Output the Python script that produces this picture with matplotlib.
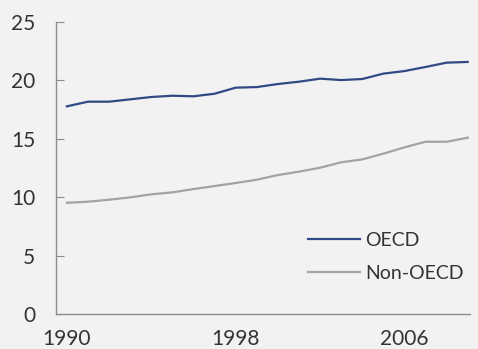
import matplotlib.pyplot as plt

years = list(range(1990, 2010))

oecd = [17.78, 18.18, 18.18, 18.38, 18.58, 18.69, 18.64, 18.86, 19.38, 19.43,
        19.69, 19.89, 20.15, 20.03, 20.12, 20.58, 20.80, 21.15, 21.52, 21.58]
non_oecd = [9.53, 9.62, 9.79, 9.99, 10.25, 10.42, 10.70, 10.96, 11.22, 11.50,
            11.90, 12.19, 12.53, 12.99, 13.24, 13.73, 14.27, 14.75, 14.75, 15.10]

xticks = [1990, 1998, 2006]
yticks = [0, 5, 10, 15, 20, 25]

plt.rcParams['font.family'] = ['Lato', 'DejaVu Sans']

bg = '#f2f2f2'
fig = plt.figure(figsize=(4.78, 3.49), dpi=100, facecolor=bg)
ax = fig.add_axes([0.117, 0.100, 0.866, 0.837], facecolor=bg)

ax.plot(years, oecd, color='#2f4a85', lw=1.6, label='OECD')
ax.plot(years, non_oecd, color='#a3a3a3', lw=1.6, label='Non-OECD')

ax.set_xlim(1989.48, 2009.1)
ax.set_ylim(0, 25)
ax.set_xticks(xticks)
ax.set_yticks(yticks)

for s in ['top', 'right']:
    ax.spines[s].set_visible(False)
for s in ['left', 'bottom']:
    ax.spines[s].set_color('#8c8c8c')
    ax.spines[s].set_linewidth(1.0)

ax.tick_params(axis='y', direction='in', length=6, color='#8c8c8c',
               pad=15, labelsize=15, labelcolor='#333333')
ax.tick_params(axis='x', length=0, pad=11, labelsize=15, labelcolor='#333333')

leg = ax.legend(loc='upper left', bbox_to_anchor=(0.644, 0.335),
                bbox_transform=fig.transFigure, frameon=False,
                borderaxespad=0, borderpad=0, fontsize=14,
                handlelength=2.7, handletextpad=0.25,
                labelspacing=0.8, labelcolor='#333333')

fig.savefig('out.png', dpi=100, facecolor=bg)
